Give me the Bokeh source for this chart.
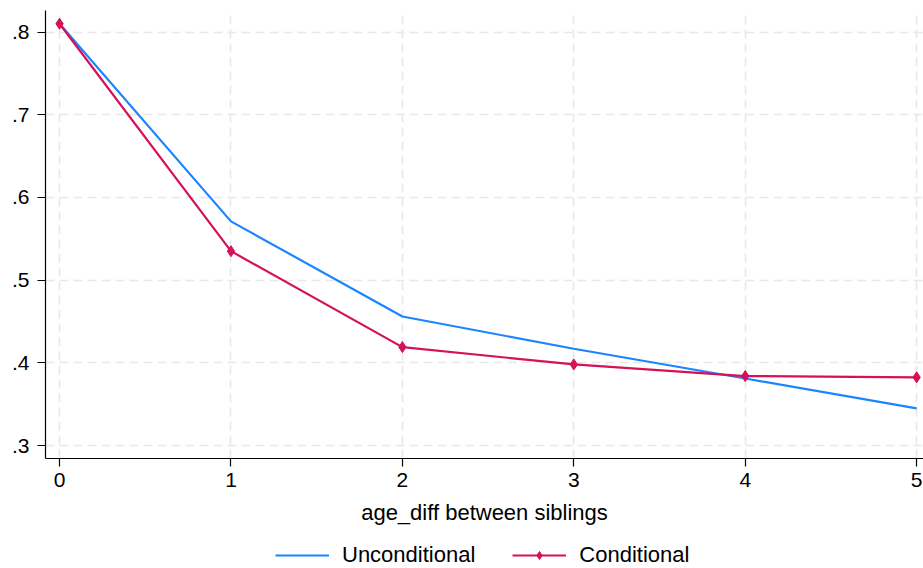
from bokeh.plotting import figure
from bokeh.layouts import column
from bokeh.models import (Range1d, FixedTicker, CustomJSTickFormatter, Legend, LegendItem)
from bokeh.embed import file_html
from bokeh.resources import INLINE

age_diff = [0, 1, 2, 3, 4, 5]
unconditional = [0.810, 0.571, 0.456, 0.417, 0.381, 0.345]
conditional = [0.810, 0.535, 0.419, 0.398, 0.384, 0.3825]
x_ticks = [0, 1, 2, 3, 4, 5]
y_ticks = [0.3, 0.4, 0.5, 0.6, 0.7, 0.8]
series_names = ["Unconditional", "Conditional"]

BLUE = "#1a85ff"
RED = "#d41159"
FONT = "Liberation Sans"

p = figure(width=923, height=534, output_backend="svg", toolbar_location=None,
           x_range=Range1d(-0.082, 5.04), y_range=Range1d(0.2843, 0.826),
           min_border_left=45, min_border_right=0, min_border_top=10, min_border_bottom=76)
p.outline_line_color = None
p.background_fill_color = "white"
p.border_fill_color = "white"

for ax in (p.xaxis[0], p.yaxis[0]):
    ax.axis_line_color = "black"
    ax.axis_line_width = 1.2
    ax.major_tick_line_color = "black"
    ax.major_tick_line_width = 1.2
    ax.major_tick_out = 8
    ax.major_tick_in = 0
    ax.minor_tick_line_color = None
    ax.major_label_text_font = FONT
    ax.major_label_text_font_size = "21px"
    ax.major_label_text_color = "black"

p.xaxis.ticker = FixedTicker(ticks=x_ticks)
p.yaxis.ticker = FixedTicker(ticks=y_ticks)
p.yaxis.formatter = CustomJSTickFormatter(code="return tick.toFixed(1).replace(/^0/, '');")
p.xaxis.major_label_standoff = 6
p.yaxis.major_label_standoff = 8
p.xaxis.axis_label = "age_diff between siblings"
p.xaxis.axis_label_text_font = FONT
p.xaxis.axis_label_text_font_size = "22px"
p.xaxis.axis_label_text_font_style = "normal"
p.xaxis.axis_label_text_color = "black"
p.xaxis.axis_label_standoff = 10

for g in (p.xgrid[0], p.ygrid[0]):
    g.grid_line_color = "#e8e8e8"
    g.grid_line_width = 1.6
    g.grid_line_dash = "9 5"

p.line(age_diff, unconditional, line_color=BLUE, line_width=2.2)
p.line(age_diff, conditional, line_color=RED, line_width=2.2)
p.scatter(age_diff, conditional, marker="diamond", size=11,
          fill_color=RED, line_color=RED)

# legend strip below the chart (its sample glyphs sit outside its view range)
p2 = figure(width=923, height=34, output_backend="svg", toolbar_location=None,
            x_axis_type=None, y_axis_type=None,
            x_range=Range1d(100, 101), y_range=Range1d(100, 101),
            min_border=0, min_border_left=0, min_border_right=0,
            min_border_top=0, min_border_bottom=0)
p2.outline_line_color = None
p2.background_fill_color = "white"
p2.border_fill_color = "white"

l1 = p2.line(age_diff, unconditional, line_color=BLUE, line_width=2.2)
l2 = p2.line(age_diff, conditional, line_color=RED, line_width=2.2)
l3 = p2.scatter(age_diff, conditional, marker="diamond", size=9,
                fill_color=RED, line_color=RED)

legend = Legend(items=[LegendItem(label=series_names[0], renderers=[l1]),
                       LegendItem(label=series_names[1], renderers=[l2, l3])],
                orientation="horizontal", location=(230, 0),
                border_line_color=None, background_fill_alpha=0,
                label_text_font=FONT, label_text_font_size="22px",
                label_text_color="black",
                glyph_width=54, glyph_height=20, label_standoff=13, spacing=37,
                padding=2, margin=0)
p2.add_layout(legend, "center")

layout = column(p, p2, spacing=0)
open("out.html", "w").write(file_html(layout, INLINE))
